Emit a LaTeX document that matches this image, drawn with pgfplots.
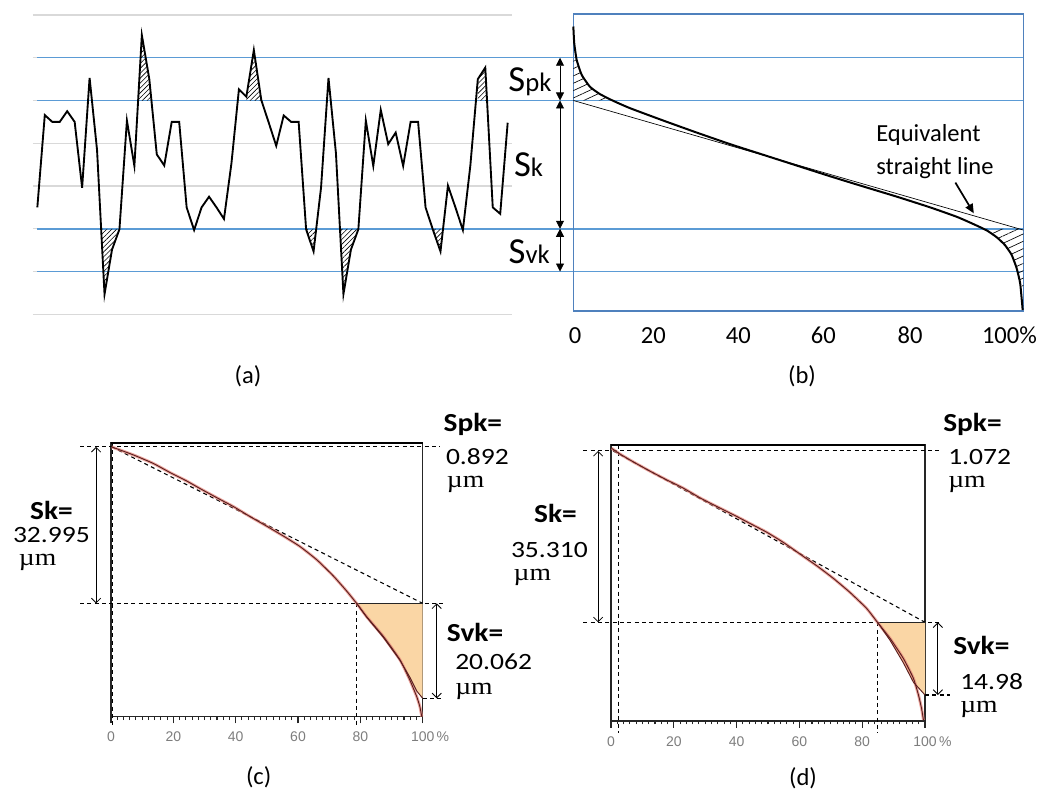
\documentclass[border=0pt]{standalone}
\usepackage{pgfplots}
\pgfplotsset{compat=1.18}
\usepackage{pgfplotstable}
\usepackage{graphicx}
\usepackage{fontspec}
\setmainfont{Carlito}
\newfontfamily\arialf{Liberation Sans}
\newfontfamily\timesf{Liberation Serif}
\usetikzlibrary{arrows.meta,patterns.meta}
\definecolor{lblue}{RGB}{91,155,213}
\definecolor{bbox}{RGB}{79,129,189}
\definecolor{gline}{RGB}{217,217,217}
\definecolor{peach}{RGB}{250,214,165}
\definecolor{crvdark}{RGB}{90,30,30}
\definecolor{crvlight}{RGB}{230,130,120}
\definecolor{tickgray}{RGB}{125,125,125}

\pgfplotstableread{
i y
0 2.50
1 4.66
2 4.50
3 4.50
4 4.75
5 4.50
6 2.96
7 5.53
8 3.84
9 0.47
10 1.51
11 1.99
12 4.53
13 3.47
14 6.53
15 5.50
16 3.74
17 3.48
18 4.50
19 4.50
20 2.50
21 1.97
22 2.50
23 2.75
24 2.50
25 2.23
26 3.53
27 5.26
28 5.09
29 6.18
30 5.01
31 4.48
32 3.94
33 4.65
34 4.50
35 4.50
36 1.99
37 1.47
38 2.96
39 5.53
40 3.76
41 0.47
42 1.51
43 1.99
44 4.53
45 3.47
46 4.78
47 3.98
48 4.25
49 3.47
50 4.50
51 4.50
52 2.50
53 1.97
54 1.47
55 3.01
56 2.50
57 1.97
58 3.48
59 5.50
60 5.77
61 2.50
62 2.35
63 4.48
}\profile

\pgfplotstableread{
x y
0 6.73
0.2 6.34
0.74 5.95
1.85 5.60
3.7 5.32
5.9 5.15
8.9 4.99
12.6 4.82
20 4.53
27.4 4.25
34.8 3.98
42.2 3.73
49.6 3.48
57 3.23
64.4 2.99
71.9 2.75
79.3 2.50
85.2 2.28
88.9 2.11
91.9 1.96
94.1 1.80
95.9 1.62
97.4 1.39
98.5 1.08
99.3 0.72
99.85 0.10
}\abbott

\pgfplotstableread{
x y
0.2 56.9
7.2 55.2
13.6 53.4
18.9 51.5
24.3 49.7
28.6 48.1
33.9 46.2
39.3 44.3
44.6 42.2
49.9 40.2
55.3 38.1
60.6 35.9
66.0 33.1
71.3 29.7
75.6 26.5
78.8 23.9
82.0 21.1
87.4 16.9
92.7 12.0
95.9 7.7
98.1 4.2
99.1 2.1
99.7 0.0
}\curvec

\pgfplotstableread{
x y
0.2 56.2
2.9 55.0
7.1 53.4
12.4 51.5
17.7 49.7
23.0 48.0
28.3 46.0
33.7 44.2
39.0 42.5
44.3 40.7
49.6 38.9
54.9 36.8
60.2 34.4
65.5 32.0
70.8 29.4
76.1 26.5
81.4 23.2
84.9 20.3
88.9 17.0
93.1 12.9
96.3 8.8
97.9 5.4
98.9 2.6
99.5 0.2
}\curved

\tikzset{dsh/.style={black, line width=0.8pt, dash pattern=on 3pt off 2.5pt},
  barb/.style={line width=0.6pt, {Straight Barb[length=3.5pt,width=7pt]}-{Straight Barb[length=3.5pt,width=7pt]}},
  tri/.style={line width=0.6pt, {Triangle[length=6pt,width=6pt]}-{Triangle[length=6pt,width=6pt]}}}
\newcommand{\bl}[1]{\scalebox{1.13}[1]{\fontsize{19.5}{22}\selectfont\bfseries #1}}
\newcommand{\nm}[1]{\scalebox{1.18}[1]{\fontsize{17.5}{22}\selectfont #1}}
\newcommand{\um}{\scalebox{1.15}[1]{\timesf\fontsize{18}{22}\selectfont µm}}

\begin{document}
\begin{tikzpicture}
\useasboundingbox (0,0) rectangle (784.5pt,594pt);

% ---------- (a) ----------
\begin{axis}[at={(24.75pt,358.275pt)}, anchor=south west, scale only axis,
  width=359.25pt, height=224.475pt, xmin=-0.58, xmax=63.58, ymin=0, ymax=7,
  hide axis, clip=false]
\addplot[gline, line width=0.8pt] coordinates {(-0.58,0) (63.58,0)};
\addplot[gline, line width=0.8pt] coordinates {(-0.58,3) (63.58,3)};
\addplot[gline, line width=0.8pt] coordinates {(-0.58,4) (63.58,4)};
\addplot[gline, line width=0.8pt] coordinates {(-0.58,7) (63.58,7)};
\addplot[gline, line width=0.8pt] coordinates {(-0.58,1) (0,1)};
\addplot[gline, line width=0.8pt] coordinates {(-0.58,2) (0,2)};
\addplot[gline, line width=0.8pt] coordinates {(-0.58,5) (0,5)};
\addplot[gline, line width=0.8pt] coordinates {(-0.58,6) (0,6)};
\addplot[lblue, line width=1.1pt] coordinates {(0,1) (132.06,1)};
\addplot[lblue, line width=1.1pt] coordinates {(0,2) (132.06,2)};
\addplot[lblue, line width=1.1pt] coordinates {(0,5) (132.06,5)};
\addplot[lblue, line width=1.1pt] coordinates {(0,6) (132.06,6)};
% hatched areas
\addplot[draw=none, pattern={Lines[angle=45,distance=2.6pt,line width=0.45pt]}] coordinates {(13.5,5) (14,6.53) (15,5.5) (15.28,5)} -- cycle;
\addplot[draw=none, pattern={Lines[angle=45,distance=2.6pt,line width=0.45pt]}] coordinates {(28,5) (28,5.09) (29,6.18) (30,5.01) (30.01,5)} -- cycle;
\addplot[draw=none, pattern={Lines[angle=45,distance=2.6pt,line width=0.45pt]}] coordinates {(59,5) (59,5.5) (60,5.77) (60.235,5)} -- cycle;
\addplot[draw=none, pattern={Lines[angle=45,distance=2.6pt,line width=0.45pt]}] coordinates {(8.546,2) (9,0.47) (10,1.51) (11,1.99) (11.004,2)} -- cycle;
\addplot[draw=none, pattern={Lines[angle=45,distance=2.6pt,line width=0.45pt]}] coordinates {(36,2) (37,1.47) (37.356,2)} -- cycle;
\addplot[draw=none, pattern={Lines[angle=45,distance=2.6pt,line width=0.45pt]}] coordinates {(40.535,2) (41,0.47) (42,1.51) (43,1.99) (43.004,2)} -- cycle;
\addplot[draw=none, pattern={Lines[angle=45,distance=2.6pt,line width=0.45pt]}] coordinates {(52.94,2) (53,1.97) (54,1.47) (54.34,2)} -- cycle;
\addplot[black, line width=1.4pt, line join=miter] table[x=i,y=y] {\profile};
\end{axis}

% ---------- (b) ----------
\begin{axis}[at={(430pt,360.75pt)}, anchor=south west, scale only axis,
  width=337.5pt, height=222.75pt, xmin=0, xmax=100, ymin=0.077, ymax=7.023,
  axis line style={bbox, line width=1pt}, ytick=\empty, xtick=\empty,
  clip=false]
\addplot[draw=none, pattern={Lines[angle=25,distance=5pt,line width=0.5pt]}] coordinates {(0,5) (0,6.05) (0.74,5.95) (1.85,5.60) (3.7,5.32) (5.9,5.15) (8.9,5.0)} -- cycle;
\addplot[draw=none, pattern={Lines[angle=25,distance=5pt,line width=0.5pt]}] coordinates {(91.5,2) (100,2) (100,0.62) (99.3,0.72) (98.5,1.08) (97.4,1.39) (95.9,1.62) (94.1,1.80) (91.9,1.96)} -- cycle;
\addplot[black, line width=0.5pt] coordinates {(0,5) (100,1.97)};
\addplot[black, line width=1.5pt, smooth, tension=0.3] table {\abbott};
\draw[tri] (axis cs:-2.96,6) -- (axis cs:-2.96,5);
\draw[tri] (axis cs:-2.96,5) -- (axis cs:-2.96,2);
\draw[tri] (axis cs:-2.96,2) -- (axis cs:-2.96,1);
\draw[line width=1.3pt, -{Triangle[length=7pt,width=6pt]}] (axis cs:84.9,3.08) -- (axis cs:89.0,2.36);
\end{axis}
% (b) axis numbers
\begin{scope}[every node/.style={anchor=base, inner sep=0pt, font=\fontsize{18.4}{22}\selectfont}]
\node at (431.25pt,336.5pt) {0};
\node at (490pt,336.5pt) {20};
\node at (553.7pt,336.5pt) {40};
\node at (617.5pt,336.5pt) {60};
\node at (682.5pt,336.5pt) {80};
\node[anchor=base west] at (736.3pt,336.5pt) {100\%};
\end{scope}

% ---------- (c) ----------
\begin{axis}[at={(83.25pt,56.475pt)}, anchor=south west, scale only axis,
  width=233.775pt, height=205.5pt, xmin=0, xmax=100, ymin=0, ymax=57.78,
  axis line style={black!85, line width=0.8pt}, ytick=\empty,
  xtick={0,20,40,60,80,100}, xticklabels={0,20,40,60,80,100\rlap{\,\%}},
  minor x tick num=9, xtick pos=left, tick align=outside,
  major tick length=5pt, minor tick length=2.5pt,
  tick style={black!85, line width=0.8pt},
  xticklabel style={font=\arialf\fontsize{10.5}{12}\selectfont, text=tickgray, yshift=-3pt},
  clip=false]
\addplot[fill=peach, draw=none] coordinates {(78.8,23.9) (100,23.9) (100,3.88) (98.1,5.4) (95.9,8.3) (92.7,11.9) (87.4,16.7) (82.0,21.0)} -- cycle;
\addplot[dsh] coordinates {(-9.9,56.9) (105.5,56.9)};
\addplot[dsh] coordinates {(0.6,57.78) (0.6,-1.75)};
\addplot[dsh] coordinates {(-9.9,23.9) (107.7,23.9)};
\addplot[dsh] coordinates {(78.8,23.9) (78.8,-1.75)};
\addplot[dsh] coordinates {(100,3.88) (107,3.88)};
\addplot[dsh] coordinates {(0.2,56.9) (100,23.9)};
\addplot[black!85, line width=0.9pt] coordinates {(78.8,23.9) (100,23.9)};
\addplot[black, line width=1.6pt] coordinates {(0,57.78) (100,57.78)};
\addplot[crvlight, line width=2.2pt, opacity=0.7, smooth, tension=0.3] table {\curvec};
\addplot[crvdark, line width=0.7pt, smooth, tension=0.3] table {\curvec};
\addplot[crvdark, line width=0.7pt] coordinates {(78.8,23.9) (82.0,21.0) (87.4,16.7) (92.7,11.9) (95.9,8.3) (98.1,5.4) (100,3.88)};
\draw[barb] (axis cs:-4.8,56.9) -- (axis cs:-4.8,23.9);
\draw[barb] (axis cs:104.5,23.9) -- (axis cs:104.5,3.88);
\end{axis}

% ---------- (d) ----------
\begin{axis}[at={(458.25pt,53.25pt)}, anchor=south west, scale only axis,
  width=235.5pt, height=207pt, xmin=0, xmax=100, ymin=0, ymax=56.88,
  axis line style={black!85, line width=0.8pt}, ytick=\empty,
  xtick={0,20,40,60,80,100}, xticklabels={0,20,40,60,80,100\rlap{\,\%}},
  minor x tick num=9, xtick pos=left, tick align=outside,
  major tick length=5pt, minor tick length=2.5pt,
  tick style={black!85, line width=0.8pt},
  xticklabel style={font=\arialf\fontsize{10.5}{12}\selectfont, text=tickgray, yshift=-3pt},
  clip=false]
\addplot[fill=peach, draw=none] coordinates {(84.9,20.34) (100,20.34) (100,5.36) (96.3,8.0) (93.1,12.0) (88.9,16.6)} -- cycle;
\addplot[dsh] coordinates {(-8.8,55.65) (104.8,55.65)};
\addplot[dsh] coordinates {(2.3,56.88) (2.3,-2.5)};
\addplot[dsh] coordinates {(-8.8,20.34) (104.8,20.34)};
\addplot[dsh] coordinates {(84.9,20.34) (84.9,-2.5)};
\addplot[dsh] coordinates {(100,5.36) (108,5.36)};
\addplot[dsh] coordinates {(0.7,55.65) (100,20.34)};
\addplot[black!85, line width=0.9pt] coordinates {(84.9,20.34) (100,20.34)};
\addplot[black, line width=1.6pt] coordinates {(0,56.88) (100,56.88)};
\addplot[crvlight, line width=2.2pt, opacity=0.7, smooth, tension=0.3] table {\curved};
\addplot[crvdark, line width=0.7pt, smooth, tension=0.3] table {\curved};
\addplot[crvdark, line width=0.7pt] coordinates {(84.9,20.34) (88.9,16.6) (93.1,12.0) (96.3,8.0) (100,5.36)};
\draw[barb] (axis cs:-4.1,55.65) -- (axis cs:-4.1,20.34);
\draw[barb] (axis cs:104.1,20.34) -- (axis cs:104.1,5.36);
\end{axis}

% ---------- texts ----------
\node[anchor=base east, inner sep=0pt] at (413.8pt,525pt) {\fontsize{27.5}{30}\selectfont S\fontsize{20}{22}\selectfont pk};
\node[anchor=base east, inner sep=0pt] at (407.5pt,461.5pt) {\fontsize{27.5}{30}\selectfont S\fontsize{20}{22}\selectfont k};
\node[anchor=base east, inner sep=0pt] at (412.5pt,396.5pt) {\fontsize{27.5}{30}\selectfont S\fontsize{20}{22}\selectfont vk};
\node[anchor=base west, inner sep=0pt] at (657pt,487.7pt) {\fontsize{18.4}{22}\selectfont Equivalent};
\node[anchor=base west, inner sep=0pt] at (657pt,462.75pt) {\fontsize{18.4}{22}\selectfont straight line};

\node at (186pt,312pt) {\fontsize{18.4}{22}\selectfont (a)};
\node at (601.5pt,312pt) {\fontsize{18.4}{22}\selectfont (b)};
\node at (194pt,11.25pt) {\fontsize{18.4}{22}\selectfont (c)};
\node at (602.25pt,10.5pt) {\fontsize{18.4}{22}\selectfont (d)};

% (c) texts
\node[anchor=base west, inner sep=0pt] at (332.5pt,270.2pt) {\bl{Spk=}};
\node[anchor=base west, inner sep=0pt] at (334.3pt,245.25pt) {\nm{0.892}};
\node[anchor=base west, inner sep=0pt] at (335pt,228pt) {\um};
\node[anchor=base west, inner sep=0pt] at (335pt,112.7pt) {\bl{Svk=}};
\node[anchor=base west, inner sep=0pt] at (341.25pt,91.5pt) {\nm{20.062}};
\node[anchor=base west, inner sep=0pt] at (341.25pt,72.75pt) {\um};
\node[anchor=base east, inner sep=0pt] at (54.75pt,204pt) {\bl{Sk=}};
\node[anchor=base east, inner sep=0pt] at (67.5pt,186.75pt) {\nm{32.995}};
\node[anchor=base west, inner sep=0pt] at (14pt,169.5pt) {\um};

% (d) texts
\node[anchor=base west, inner sep=0pt] at (707.25pt,270.2pt) {\bl{Spk=}};
\node[anchor=base west, inner sep=0pt] at (711pt,245.25pt) {\nm{1.072}};
\node[anchor=base west, inner sep=0pt] at (711pt,228pt) {\um};
\node[anchor=base west, inner sep=0pt] at (714.75pt,102.75pt) {\bl{Svk=}};
\node[anchor=base west, inner sep=0pt] at (720pt,76.5pt) {\nm{14.98}};
\node[anchor=base west, inner sep=0pt] at (720pt,59.25pt) {\um};
\node[anchor=base east, inner sep=0pt] at (432.75pt,201.75pt) {\bl{Sk=}};
\node[anchor=base east, inner sep=0pt] at (441pt,175.5pt) {\nm{35.310}};
\node[anchor=base west, inner sep=0pt] at (385pt,158.25pt) {\um};
\end{tikzpicture}
\end{document}
